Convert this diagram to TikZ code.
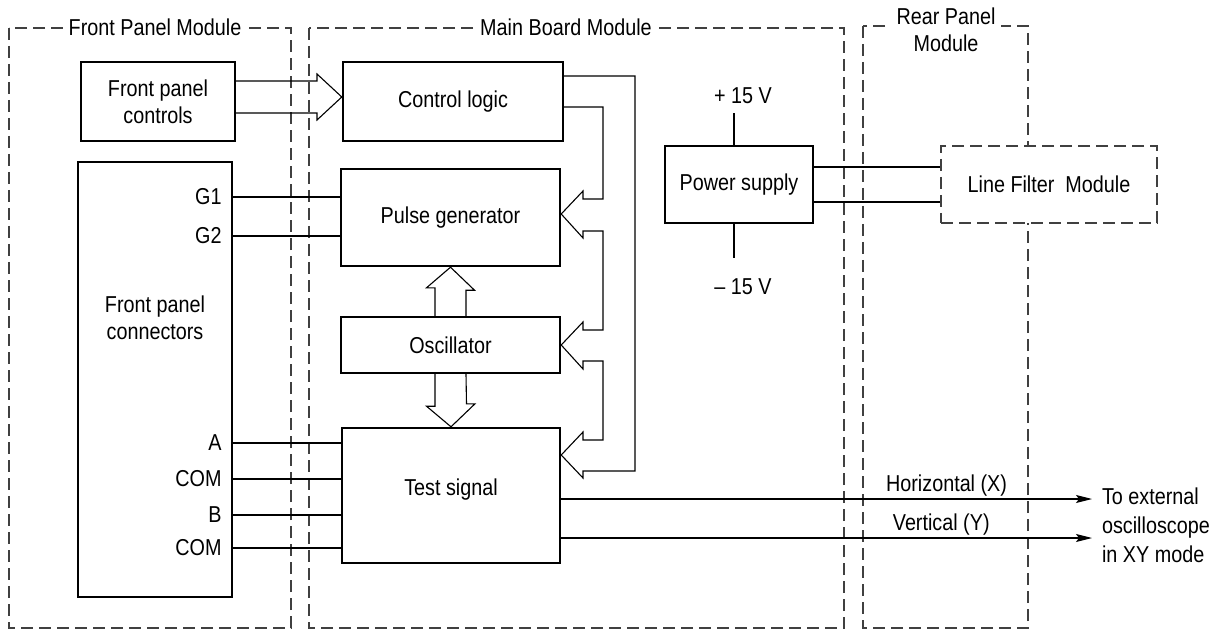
\documentclass[tikz,border=0pt]{standalone}
\usepackage{fontspec}
\setmainfont{Liberation Sans}[FakeStretch=0.86]
\usetikzlibrary{arrows.meta, calc}

\begin{document}
\begin{tikzpicture}[
    x=0.5pt, y=-0.5pt,
    every node/.style={font=\fontsize{11.5}{13.5}\selectfont},
    block/.style={rectangle, draw, line width=1.2pt, align=center, inner sep=0pt},
    module/.style={draw=black!75, line width=0.6pt, dash pattern=on 6pt off 3pt},
    title/.style={fill=white, inner sep=3pt, align=center},
    wire/.style={line width=0.55pt},
    signal/.style={wire, -{Stealth[length=8pt, width=4pt, inset=1.5pt]}},
    pin/.style={anchor=east, inner sep=0pt}
]
\useasboundingbox (0,0) rectangle (1217,631);

% module outlines
\draw[module] (9,28) rectangle (291,628);
\draw[module] (309,28) rectangle (844,628);
\draw[module] (863,26) rectangle (1028,628);
\node[title] (fptitle) at (155,27) {Front Panel Module};
\node[title] (mbtitle) at (566,27) {Main Board Module};
\node[title] (rptitle) at (946,30) {Rear Panel\\Module};

% blocks
\node[block, minimum width=77pt, minimum height=39.5pt] (fpctrl) at (158,101.5) {Front panel\\controls};
\node[block, minimum width=77pt, minimum height=217.5pt] (fpconn) at (155,379.5) {};
\node[align=center] (fpconntext) at (155,318) {Front panel\\connectors};
\node[block, minimum width=110pt, minimum height=39.5pt] (ctrl) at (453,101.5) {Control logic};
\node[block, minimum width=109.5pt, minimum height=48.5pt] (pulse) at (450.5,217.5) {Pulse generator};
\node[block, minimum width=109.5pt, minimum height=28pt] (osc) at (450.5,345) {Oscillator};
\node[block, minimum width=109pt, minimum height=67.5pt, text depth=8pt] (test) at (451,495.5) {Test signal};
\node[block, minimum width=74pt, minimum height=38.5pt] (power) at (739,184.5) {Power supply};
\node[module, fill=white, minimum width=108pt, minimum height=38.5pt] (lf) at (1049,184.5) {Line Filter\ \ Module};

% connector pins
\node[pin] (g1) at (222,197) {G1};
\node[pin] (g2) at (222,236) {G2};
\node[pin] (a) at (222,443) {A};
\node[pin] (com1) at (222,479) {COM};
\node[pin] (b) at (222,515) {B};
\node[pin] (com2) at (222,548) {COM};

% supply and output labels
\node (p15) at (743,96) {+ 15 V};
\node (m15) at (743,287) {-- 15 V};
\node[anchor=west, align=left, font=\fontsize{11.5}{14.5}\selectfont] (scope) at (1095,525) {To external\\oscilloscope\\in XY mode};
\coordinate (p15end) at (734,113);
\coordinate (m15end) at (734,258);
\coordinate (xend) at (1092,499);
\coordinate (yend) at (1092,538);

% Connectors
\draw[wire] (fpconn.east |- g1) -- (pulse.west |- g1);
\draw[wire] (fpconn.east |- g2) -- (pulse.west |- g2);
\draw[wire] (fpconn.east |- a) -- (test.west |- a);
\draw[wire] (fpconn.east |- com1) -- (test.west |- com1);
\draw[wire] (fpconn.east |- b) -- (test.west |- b);
\draw[wire] (fpconn.east |- com2) -- (test.west |- com2);
\draw[wire] (power.north -| p15end) -- (p15end);
\draw[wire] (power.south -| m15end) -- (m15end);
\draw[wire] (power.east |- 0,167) -- (lf.west |- 0,167);
\draw[wire] (power.east |- 0,202) -- (lf.west |- 0,202);
\draw[signal] (test.east |- xend) -- node[pos=0.726, above, inner sep=1pt] (xlabel) {Horizontal (X)} (xend);
\draw[signal] (test.east |- yend) -- node[pos=0.716, above, inner sep=1pt] (ylabel) {Vertical (Y)} (yend);

% wide arrows
\draw[wire] (fpctrl.east |- 0,81) -- (317,81) -- (317,74) -- (ctrl.west |- 0,97) -- (317,120) -- (317,113) -- (fpctrl.east |- 0,113);
\draw[wire] ($(osc.north)+(-15.5,0)$) -- ++(0,-28) -- ++(-8.5,0) -- (pulse.south) -- ($(pulse.south)+(24,23)$) -- ++(-8.5,0) -- ($(osc.north)+(15.5,0)$);
\draw[wire] ($(osc.south)+(-15.5,0)$) -- ++(0,32) -- ++(-8.5,0) -- (test.north) -- ($(test.north)+(24,-23)$) -- ++(-8.5,0) -- ($(osc.south)+(15.5,0)$);

% control bus
\draw[wire] (ctrl.east |- 0,76) -- (635,76) -- (635,471) -- (583,471) -- (583,478) -- (test.east |- 0,455) -- (583,432) -- (583,440) -- (603,440)
    -- (603,361) -- (583,361) -- (583,369) -- (osc.east) -- (583,322) -- (583,330) -- (603,330)
    -- (603,231) -- (583,231) -- (583,238) -- (pulse.east |- 0,214) -- (583,191) -- (583,199) -- (603,199)
    -- (603,107) -- (ctrl.east |- 0,107);

\end{tikzpicture}
\end{document}
